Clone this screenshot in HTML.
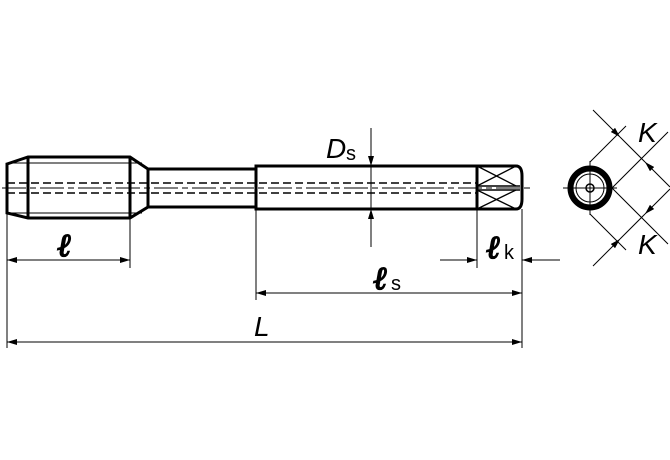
<!DOCTYPE html>
<html><head><style>body{margin:0;background:#fff}svg{display:block}</style></head><body>
<svg width="670" height="460" viewBox="0 0 670 460" xmlns="http://www.w3.org/2000/svg">
<defs><marker id="a" viewBox="0 0 10 6" refX="10" refY="3" markerWidth="10" markerHeight="6" markerUnits="userSpaceOnUse" orient="auto"><path d="M0,0L10,3L0,6z" fill="#000"/></marker></defs>
<g fill="none" stroke="#000">
<path d="M7,164L28,157H130L148,169V207L130,218H28L7,213Z" stroke-width="3"/>
<path d="M28,157V218M130,157V218" stroke-width="3"/>
<path d="M9,163H142M9,213H142" stroke-width="1"/>
<path d="M148,169H256M148,207H256" stroke-width="3"/>
<path d="M256,166H477V209H256Z" stroke-width="3"/>
<path d="M477,166H516Q522,166 522,176V199Q522,209 516,209H477" stroke-width="3"/>
<path d="M477,166L516,186M516,166L477,186M477,190L516,209M516,190L477,209" stroke-width="1.3"/>
<path d="M477,186H520M477,190H520" stroke-width="1.5"/>
<path d="M2,188H530" stroke-width="1" stroke-dasharray="24,4,6,4"/>
<path d="M7,183H477M7,193H477" stroke-width="1.5" stroke-dasharray="8,4"/>
<path d="M7,213V348M130,218V268M256,209V300M477,209V268M522,209V348" stroke-width="1"/>
<path d="M130,260H7" stroke-width="1" marker-end="url(#a)"/>
<path d="M7,260H130" stroke-width="1" marker-end="url(#a)"/>
<path d="M256,293H522" stroke-width="1" marker-end="url(#a)"/>
<path d="M522,293H256" stroke-width="1" marker-end="url(#a)"/>
<path d="M7,342H522" stroke-width="1" marker-end="url(#a)"/>
<path d="M522,342H7" stroke-width="1" marker-end="url(#a)"/>
<path d="M440,260H477" stroke-width="1" marker-end="url(#a)"/>
<path d="M560,260H522" stroke-width="1" marker-end="url(#a)"/>
<path d="M371,128V166" stroke-width="1" marker-end="url(#a)"/>
<path d="M371,247V209" stroke-width="1" marker-end="url(#a)"/>
<path d="M371,166V209" stroke-width="1"/>
<circle cx="590" cy="188" r="19.5" stroke-width="6"/>
<circle cx="590" cy="188" r="14" stroke-width="1"/>
<circle cx="590" cy="188" r="4" stroke-width="1.5"/>
<path d="M563,188H617M590,161V215" stroke-width="1"/>
<path d="M590,162L626,126M612,188L668,132M612,188L668,244M590,214L626,250" stroke-width="1"/>
<path d="M593,110L620,137" stroke-width="1" marker-end="url(#a)"/>
<path d="M670,187L645,162" stroke-width="1" marker-end="url(#a)"/>
<path d="M620,137L645,162" stroke-width="1"/>
<path d="M670,189L645,214" stroke-width="1" marker-end="url(#a)"/>
<path d="M593,266L620,239" stroke-width="1" marker-end="url(#a)"/>
<path d="M620,239L645,214" stroke-width="1"/>
</g>
<g font-family="Liberation Sans, sans-serif" fill="#000">
<g font-size="32" font-style="italic" font-family="DejaVu Serif, serif" stroke="#000" stroke-width="1.5">
<text x="57" y="256">ℓ</text>
<text x="373" y="289">ℓ</text>
<text x="486" y="258">ℓ</text>
</g>
<text x="391" y="290" font-size="20">s</text>
<text x="504" y="259" font-size="20">k</text>
<text x="326" y="158" font-size="28" font-style="italic">D</text><text x="346" y="160" font-size="20">s</text>
<text x="254" y="336" font-size="28" font-style="italic">L</text>
<text x="638" y="142" font-size="28" font-style="italic">K</text>
<text x="638" y="254" font-size="28" font-style="italic">K</text>
</g>
</svg>
</body></html>
